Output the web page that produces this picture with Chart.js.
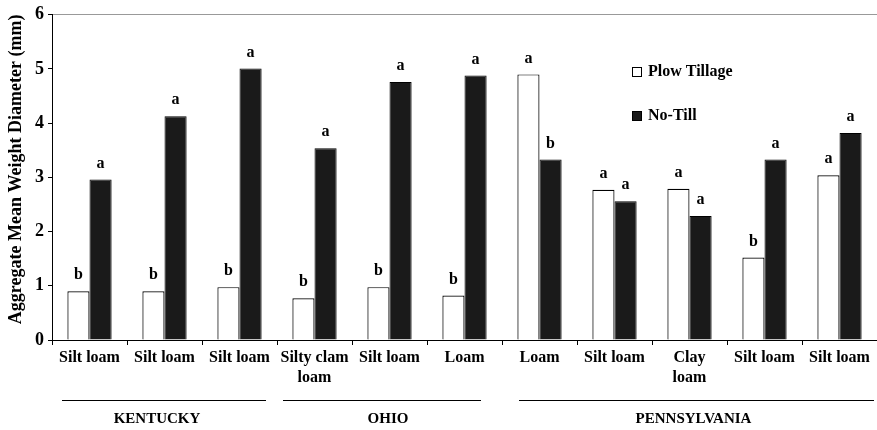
<!DOCTYPE html>
<html><head><meta charset="utf-8">
<script src="https://cdn.jsdelivr.net/npm/chart.js@4/dist/chart.umd.min.js"></script>
<style>html,body{margin:0;padding:0;background:#fff}#wrap{width:877px;height:430px}</style>
</head><body><div id="wrap"><canvas id="c" width="877" height="430"></canvas></div>
<script>
const categories = [["Silt loam"],["Silt loam"],["Silt loam"],["Silty clam","loam"],["Silt loam"],["Loam"],["Loam"],["Silt loam"],["Clay","loam"],["Silt loam"],["Silt loam"]];
const plowTillage = [0.90,0.90,0.975,0.77,0.975,0.82,4.90,2.77,2.79,1.52,3.04];
const noTill = [2.96,4.13,5.01,3.54,4.76,4.88,3.33,2.56,2.29,3.33,3.82];
const plowLetters = ["b","b","b","b","b","b","a","a","a","b","a"];
const noTillLetters = ["a","a","a","a","a","a","b","a","a","a","a"];
const yTicks = [0,1,2,3,4,5,6];
const yTitle = "Aggregate Mean Weight Diameter (mm)";
const groupNames = ["KENTUCKY","OHIO","PENNSYLVANIA"];
const groupFirst = [0,3,6];
const groupLast = [2,5,10];
const FONT = "'Liberation Serif','DejaVu Serif',serif";

const overlay = {
  id:'overlay',
  afterDatasetsDraw(chart){
    const ctx = chart.ctx;
    ctx.save();
    ctx.fillStyle = '#000';
    ctx.font = "bold 16px " + FONT;
    ctx.textAlign = 'center';
    ctx.textBaseline = 'middle';
    const letterSets = [plowLetters, noTillLetters];
    chart.data.datasets.forEach((ds, di) => {
      const meta = chart.getDatasetMeta(di);
      meta.data.forEach((bar, i) => {
        ctx.fillText(letterSets[di][i], bar.x, bar.y - 16);
      });
    });
    // y title
    const ca = chart.chartArea;
    ctx.save();
    ctx.translate(16, (ca.top + ca.bottom) / 2 - 8);
    ctx.rotate(-Math.PI / 2);
    ctx.font = "bold 18px " + FONT;
    ctx.fillText(yTitle, 0, 0);
    ctx.restore();
    // legend
    const lx = 632, ly = [72, 116];
    ctx.font = "bold 16px " + FONT;
    ctx.textAlign = 'left';
    chart.data.datasets.forEach((ds, di) => {
      ctx.fillStyle = ds.backgroundColor;
      ctx.fillRect(lx, ly[di]-5, 10, 10);
      ctx.strokeStyle = '#000'; ctx.lineWidth = 1;
      ctx.strokeRect(lx+0.5, ly[di]-4.5, 9, 9);
      ctx.fillStyle = '#000';
      ctx.fillText(ds.label, lx + 16, ly[di]);
    });
    // group lines and labels
    const x = chart.scales.x;
    const half = (x.getPixelForValue(1) - x.getPixelForValue(0)) / 2;
    const insetL = [10, 6, 17], insetR = [11, 21, 3], labelShift = [-7, 6, -3];
    ctx.strokeStyle = '#000'; ctx.lineWidth = 1;
    ctx.textAlign = 'center';
    ctx.font = "bold 15px " + FONT;
    groupNames.forEach((name, g) => {
      const x1 = x.getPixelForValue(groupFirst[g]) - half + insetL[g];
      const x2 = Math.min(x.getPixelForValue(groupLast[g]) + half - insetR[g], chart.width - 3);
      ctx.beginPath(); ctx.moveTo(x1, 400.5); ctx.lineTo(x2, 400.5); ctx.stroke();
      ctx.fillText(name, (x1 + x2) / 2 + labelShift[g], 419);
    });
    ctx.restore();
  }
};

new Chart(document.getElementById('c'), {
  type:'bar',
  data:{
    labels: categories,
    datasets:[
      {label:'Plow Tillage', data: plowTillage, backgroundColor:'#ffffff', borderColor:'#000000', borderWidth:1.2},
      {label:'No-Till', data: noTill, backgroundColor:'#1a1a1a', borderColor:'#000000', borderWidth:1}
    ]
  },
  options:{
    responsive:false,
    animation:false,
    layout:{padding:{top:3,right:0,left:0,bottom:0}},
    plugins:{legend:{display:false}, tooltip:{enabled:false}},
    datasets:{bar:{barPercentage:1.0, categoryPercentage:0.59}},
    scales:{
      x:{
        offset:true,
        grid:{offset:true, drawOnChartArea:false, color:'#000', tickLength:5, tickColor:'#000'},
        border:{color:'#000', width:1},
        ticks:{color:'#000', font:{family:FONT, size:16, weight:'bold', lineHeight:1.3}, maxRotation:0, autoSkip:false, padding:2},
        afterFit(s){ s.height = 90; }
      },
      y:{
        min:0, max:6,
        afterBuildTicks(s){ s.ticks = yTicks.map(v => ({value:v})); },
        grid:{color:(c)=> c.tick && c.tick.value === 6 ? '#999' : 'rgba(0,0,0,0)', tickColor:'#000', tickLength:4, drawTicks:true},
        border:{color:'#000', width:1},
        ticks:{color:'#000', font:{family:FONT, size:18, weight:'bold'}, padding:4},
        title:{display:false},
        afterFit(s){ s.width = 52; }
      }
    }
  },
  plugins:[overlay]
});
</script></body></html>
